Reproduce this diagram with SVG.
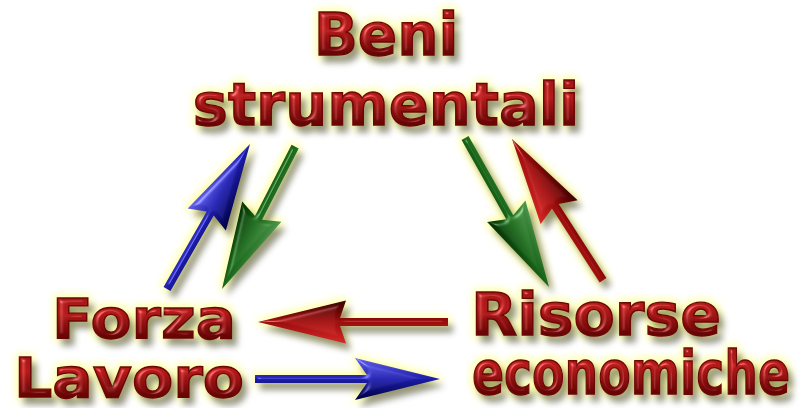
<svg xmlns="http://www.w3.org/2000/svg" width="800" height="408" viewBox="0 0 800 408">
<defs>
  <style>
    .t { font-family: "DejaVu Sans", "Liberation Sans", sans-serif; font-weight: bold; fill: url(#gRed); stroke: #6a0606; stroke-width: 1.4; filter: url(#fx); }
  </style>
  <linearGradient id="gRed" x1="0" y1="0" x2="0" y2="1">
    <stop offset="0" stop-color="#9a1414"/>
    <stop offset="0.4" stop-color="#b41a1a"/>
    <stop offset="0.75" stop-color="#6e0606"/>
    <stop offset="1" stop-color="#360000"/>
  </linearGradient>
  <linearGradient id="aRed" x1="0" y1="0" x2="0" y2="1">
    <stop offset="0" stop-color="#d82828"/>
    <stop offset="0.5" stop-color="#9a0c0c"/>
    <stop offset="1" stop-color="#3a0000"/>
  </linearGradient>
  <linearGradient id="aBlue" x1="0" y1="0" x2="0" y2="1">
    <stop offset="0" stop-color="#6060e8"/>
    <stop offset="0.5" stop-color="#1c1ca8"/>
    <stop offset="1" stop-color="#000040"/>
  </linearGradient>
  <linearGradient id="aGreen" x1="0" y1="0" x2="0" y2="1">
    <stop offset="0" stop-color="#509850"/>
    <stop offset="0.5" stop-color="#1a661a"/>
    <stop offset="1" stop-color="#002a00"/>
  </linearGradient>
  <filter id="fx" x="-20%" y="-40%" width="140%" height="190%" color-interpolation-filters="sRGB">
    <feGaussianBlur in="SourceAlpha" stdDeviation="3" result="sb"/>
    <feOffset in="sb" dx="5" dy="7" result="so"/>
    <feFlood flood-color="#000" flood-opacity="0.4"/>
    <feComposite in2="so" operator="in" result="shadow"/>
    <feMorphology in="SourceAlpha" operator="dilate" radius="2" result="d"/>
    <feGaussianBlur in="d" stdDeviation="4" result="gb"/>
    <feFlood flood-color="#ffff90" flood-opacity="0.9"/>
    <feComposite in2="gb" operator="in" result="glow"/>
    <feGaussianBlur in="SourceAlpha" stdDeviation="2.5" result="bb"/>
    <feSpecularLighting in="bb" surfaceScale="5" specularConstant="0.8" specularExponent="20" lighting-color="#ffffff" result="spec">
      <feDistantLight azimuth="225" elevation="40"/>
    </feSpecularLighting>
    <feComposite in="spec" in2="SourceAlpha" operator="in" result="specIn"/>
    <feComposite in="SourceGraphic" in2="specIn" operator="arithmetic" k1="0" k2="1" k3="0.45" k4="0" result="lit"/>
    <feMerge>
      <feMergeNode in="glow"/>
      <feMergeNode in="shadow"/>
      <feMergeNode in="lit"/>
    </feMerge>
  </filter>
</defs>
<rect width="800" height="408" fill="#ffffff"/>

<g id="beni-strumentali">
  <text class="t" x="386" y="55" font-size="58" text-anchor="middle">Beni</text>
  <text class="t" x="386" y="125" font-size="59" text-anchor="middle">strumentali</text>
</g>
<g id="forza-lavoro">
  <text class="t" x="52" y="338" font-size="56" textLength="184" lengthAdjust="spacingAndGlyphs">Forza</text>
  <text class="t" x="14" y="397" font-size="56" textLength="230" lengthAdjust="spacingAndGlyphs">Lavoro</text>
</g>
<g id="risorse-economiche">
  <text class="t" x="471" y="335" font-size="58" textLength="250" lengthAdjust="spacingAndGlyphs">Risorse</text>
  <text class="t" x="472" y="394" font-size="60" textLength="318" lengthAdjust="spacingAndGlyphs">economiche</text>
</g>

<g id="connectors" style="filter:url(#fx)">
  <path fill="url(#aBlue)" transform="translate(250,144) rotate(-60.2)" d="M0,0 L-87,-22 L-80,-4 L-167,-4 L-167,4 L-80,4 L-87,22 Z"/>
  <path fill="url(#aGreen)" transform="translate(222,289) rotate(117.2)" d="M0,0 L-87,-22 L-80,-4 L-160,-4 L-160,4 L-80,4 L-87,22 Z"/>
  <path fill="url(#aGreen)" transform="translate(549,287) rotate(60.6)" d="M0,0 L-87,-22 L-80,-4 L-171,-4 L-171,4 L-80,4 L-87,22 Z"/>
  <path fill="url(#aRed)" transform="translate(512,139) rotate(237.2)" d="M0,0 L-87,-22 L-80,-4 L-168,-4 L-168,4 L-80,4 L-87,22 Z"/>
  <path fill="url(#aRed)" transform="translate(258,322) rotate(180)" d="M0,0 L-88,-21.5 L-82,-4 L-190,-4 L-190,4 L-82,4 L-88,21.5 Z"/>
  <path fill="url(#aBlue)" transform="translate(440,379) rotate(0)" d="M0,0 L-85,-21 L-73,-4 L-185,-4 L-185,4 L-73,4 L-85,21 Z"/>
</g>
</svg>
